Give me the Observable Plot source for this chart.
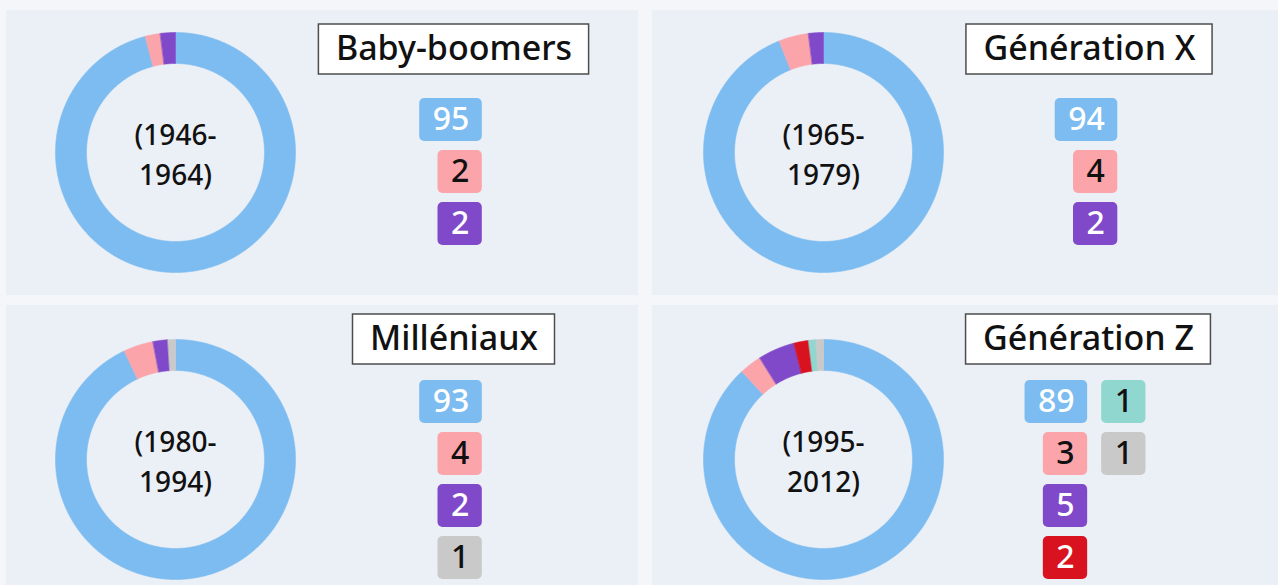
<!DOCTYPE html>
<html>
<head>
<meta charset="utf-8">
<script src="https://cdn.jsdelivr.net/npm/d3@7"></script>
<script src="https://cdn.jsdelivr.net/npm/@observablehq/plot@0.6"></script>
<style>
  html, body { margin: 0; padding: 0; }
  body { width: 1278px; height: 585px; overflow: hidden; position: relative; background: #f4f6f9; font-family: "Noto Sans", sans-serif; }
  .panel { position: absolute; }
  .panel svg { display: block; }
</style>
</head>
<body>
<div id="p0" class="panel" style="left:6px;top:10px"></div>
<div id="p1" class="panel" style="left:652px;top:10px"></div>
<div id="p2" class="panel" style="left:6px;top:305px"></div>
<div id="p3" class="panel" style="left:652px;top:305px"></div>
<script>
// ---------- DATA ----------
const generations = ["Baby-boomers", "Génération X", "Milléniaux", "Génération Z"];
const periods = ["(1946-\n1964)", "(1965-\n1979)", "(1980-\n1994)", "(1995-\n2012)"];
const categories = ["cat1", "cat2", "cat3", "cat4", "cat5", "cat6"];
// values per category, one entry per generation (null = absent)
const cat1Values = [95, 94, 93, 89];
const cat2Values = [2, 4, 4, 3];
const cat3Values = [2, 2, 2, 5];
const cat4Values = [null, null, null, 2];
const cat5Values = [null, null, null, 1];
const cat6Values = [null, null, 1, 1];
const seriesValues = [cat1Values, cat2Values, cat3Values, cat4Values, cat5Values, cat6Values];

// ---------- STYLE ----------
const catColors = ["#7cbcf0", "#fba5ab", "#8049c9", "#d9121f", "#90d7cf", "#c9c9c9"];
const catTextColors = ["#ffffff", "#111111", "#ffffff", "#ffffff", "#111111", "#111111"];
const panelBg = "#ebeff6";
const FONT_WEIGHT = 500;

// ---------- LAYOUT ----------
const panelW = [632, 626, 632, 626];
const panelH = [285, 285, 280, 280];
const donutCx = [169, 171, 169, 171];
const donutCy = [142, 142, 154, 154];
const titleCx = [447.5, 437, 447.5, 436];
const titleTop = [14, 14, 9, 9];
const rowsTop = [88, 88, 75, 75];
const R = 120, R_IN = 89;
const TITLE_H = 50, TITLE_PAD = 17, TITLE_SIZE = 34;
const VAL_SIZE = 32, VAL_PAD = 13, BOX_H = 43, ROW_PITCH = 52, COL_GAP = 14, ROWS_PER_COL = 4;
const YEAR_SIZE = 28, YEAR_LINE = 40;

const ctx = document.createElement("canvas").getContext("2d");
function measure(text, size) {
  ctx.font = `${FONT_WEIGHT} ${size}px "Noto Sans"`;
  return ctx.measureText(text).width;
}

generations.forEach((gen, g) => {
  const cx = donutCx[g], cy = donutCy[g];
  const ux = px => (px - cx) / R;
  const uy = py => (cy - py) / R;

  const items = categories
    .map((c, i) => ({cat: c, i, value: seriesValues[i][g]}))
    .filter(d => d.value != null);
  const total = d3.sum(items, d => d.value);

  const marks = [];
  // donut slices, clockwise from 12 o'clock
  let acc = 0;
  items.forEach(d => {
    const a0 = acc / total * 2 * Math.PI;
    acc += d.value;
    const a1 = acc / total * 2 * Math.PI;
    const n = Math.max(2, Math.ceil((a1 - a0) / (Math.PI / 360)));
    const pts = [];
    for (let k = 0; k <= n; k++) { const a = a0 + (a1 - a0) * k / n; pts.push({x: Math.sin(a), y: Math.cos(a)}); }
    for (let k = n; k >= 0; k--) { const a = a0 + (a1 - a0) * k / n; pts.push({x: Math.sin(a) * R_IN / R, y: Math.cos(a) * R_IN / R}); }
    marks.push(Plot.line(pts, {x: "x", y: "y", fill: catColors[d.i], stroke: catColors[d.i], strokeWidth: 0.6, curve: "linear-closed"}));
  });

  // period text in the middle
  marks.push(Plot.text([periods[g]], {
    x: () => 0, y: () => 0, text: d => d,
    fontSize: YEAR_SIZE, fontWeight: FONT_WEIGHT, lineHeight: YEAR_LINE / YEAR_SIZE, fill: "#111"
  }));

  // title box
  const tw = measure(gen, TITLE_SIZE) + 2 * TITLE_PAD;
  const tcx = titleCx[g], tt = titleTop[g];
  marks.push(Plot.rect([gen], {
    x1: () => ux(tcx - tw / 2), x2: () => ux(tcx + tw / 2),
    y1: () => uy(tt + TITLE_H), y2: () => uy(tt),
    fill: "#ffffff", stroke: "#4d4d4d", strokeWidth: 1.5
  }));
  marks.push(Plot.text([gen], {
    x: () => ux(tcx), y: () => uy(tt + TITLE_H / 2), text: d => d,
    fontSize: TITLE_SIZE, fontWeight: FONT_WEIGHT, fill: "#111"
  }));

  // value boxes, columns of up to 4
  items.forEach(d => { d.w = measure(String(d.value), VAL_SIZE) + 2 * VAL_PAD; });
  const cols = d3.range(Math.ceil(items.length / ROWS_PER_COL)).map(c => items.slice(c * ROWS_PER_COL, (c + 1) * ROWS_PER_COL));
  const colW = cols.map(col => d3.max(col, d => d.w));
  const groupW = d3.sum(colW) + COL_GAP * (cols.length - 1);
  let left = tcx - 3 - groupW / 2;
  cols.forEach((col, c) => {
    const right = left + colW[c];
    col.forEach((d, r) => {
      d.px2 = right; d.px1 = right - d.w;
      d.py1 = rowsTop[g] + r * ROW_PITCH; d.py2 = d.py1 + BOX_H;
    });
    left = right + COL_GAP;
  });
  marks.push(Plot.rect(items, {
    x1: d => ux(d.px1), x2: d => ux(d.px2), y1: d => uy(d.py2), y2: d => uy(d.py1),
    fill: d => catColors[d.i], rx: 5
  }));
  marks.push(Plot.text(items, {
    x: d => ux((d.px1 + d.px2) / 2), y: d => uy((d.py1 + d.py2) / 2),
    text: d => String(d.value), fill: d => catTextColors[d.i], fontSize: VAL_SIZE, fontWeight: FONT_WEIGHT
  }));

  const chart = Plot.plot({
    width: panelW[g],
    height: panelH[g],
    margin: 0,
    x: {domain: [-1, 1], range: [cx - R, cx + R], axis: null},
    y: {domain: [-1, 1], range: [cy + R, cy - R], axis: null},
    color: {type: "identity"},
    style: {background: panelBg, fontFamily: "'Noto Sans', sans-serif", overflow: "visible"},
    marks
  });
  document.getElementById("p" + g).appendChild(chart);
});
</script>
</body>
</html>
